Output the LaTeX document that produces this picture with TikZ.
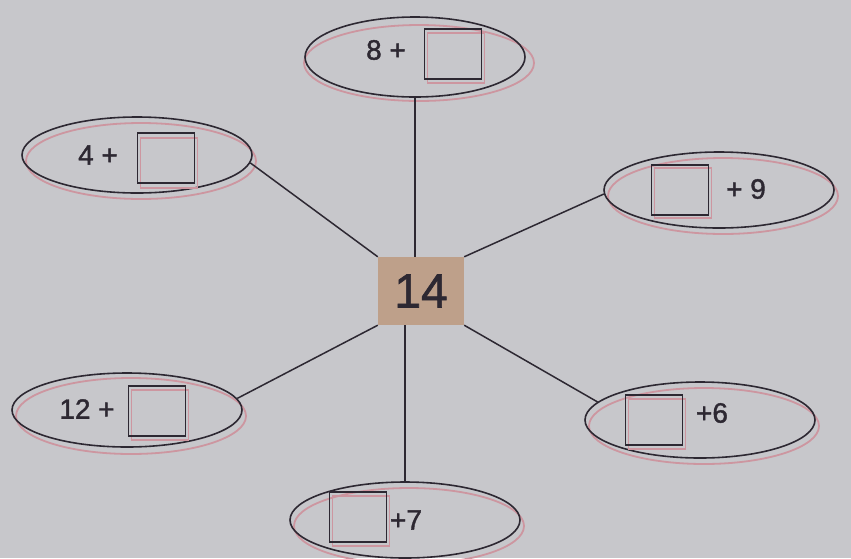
\documentclass[tikz,border=0pt]{standalone}
\usepackage{fontspec}
\setmainfont{Liberation Sans}[FakeBold=1.4]
\usetikzlibrary{shapes.geometric}
\definecolor{bg}{RGB}{199,199,203}
\definecolor{ink}{RGB}{45,40,50}
\definecolor{ghost}{RGB}{205,150,160}
\definecolor{tan}{RGB}{190,160,138}
\tikzset{
  oval/.style={ellipse, draw=ink, line width=1.6pt, minimum width=230pt, minimum height=76pt, inner sep=0pt},
  ovalghost/.style={ellipse, draw=ghost, line width=1.8pt, minimum width=230pt, minimum height=76pt, inner sep=0pt},
  blank/.style={draw=ink, line width=1.4pt, minimum width=57pt, minimum height=50pt, inner sep=0pt},
  blankghost/.style={draw=ghost, line width=1.4pt, minimum width=57pt, minimum height=50pt, inner sep=0pt},
  lbl/.style={font=\fontsize{28}{30}\selectfont, text=ink, inner sep=0pt},
  spoke/.style={draw=ink, line width=1.5pt},
  hub/.style={fill=tan, minimum width=86pt, minimum height=68pt, inner sep=0pt, font=\fontsize{48}{50}\selectfont, text=ink}
}
\begin{document}
\begin{tikzpicture}[x=1pt,y=-1pt]
\fill[bg] (0,0) rectangle (851,558);
\useasboundingbox (0,0) rectangle (851,558);
% ghost outlines
\node[ovalghost] (tg) at (419,63) {};
\node[ovalghost] (ltg) at (141,161) {};
\node[ovalghost] (rtg) at (723,196) {};
\node[ovalghost] (lbg) at (131,416) {};
\node[ovalghost] (rbg) at (704,426) {};
\node[ovalghost] (bg2) at (409,526) {};
% ellipses
\node[oval, minimum width=220pt, minimum height=80pt] (t) at (415,57) {};
\node[oval] (lt) at (137,155) {};
\node[oval] (rt) at (719,190) {};
\node[oval, minimum height=74pt] (lb) at (127,410) {};
\node[oval] (rb) at (700,420) {};
\node[oval] (b) at (405,520) {};
% hub
\node[hub] (c) at (421,291) {14};
% spokes
\draw[spoke] (t.south) -- (c.north -| t.south);
\draw[spoke] (lt.-4) -- (c.north west);
\draw[spoke] (rt.182) -- (c.north east);
\draw[spoke] (lb.6) -- (c.south west);
\draw[spoke] (rb.170) -- (c.south east);
\draw[spoke] (b.north) -- (c.south -| b.north);
% boxes and labels
\node[blankghost] (tbx2) at (456,58) {};
\node[blank] (tbx) at (453,54) {};
\node[lbl] (tl) at (386,50) {8 +};
\node[blankghost] (ltbx2) at (169,163) {};
\node[blank] (ltbx) at (166,158) {};
\node[lbl] (ltl) at (98,155) {4 +};
\node[blankghost] (rtbx2) at (683,193) {};
\node[blank] (rtbx) at (680,190) {};
\node[lbl] (rtl) at (746,189) {+ 9};
\node[blankghost] (lbbx2) at (160,415) {};
\node[blank] (lbbx) at (157,411) {};
\node[lbl] (lbl1) at (87,409) {12 +};
\node[blankghost] (rbbx2) at (657,424) {};
\node[blank] (rbbx) at (654,420) {};
\node[lbl] (rbl) at (712,413) {+6};
\node[blankghost] (bbx2) at (361,521) {};
\node[blank] (bbx) at (358,517) {};
\node[lbl] (bl) at (406,520) {+7};
\end{tikzpicture}
\end{document}
